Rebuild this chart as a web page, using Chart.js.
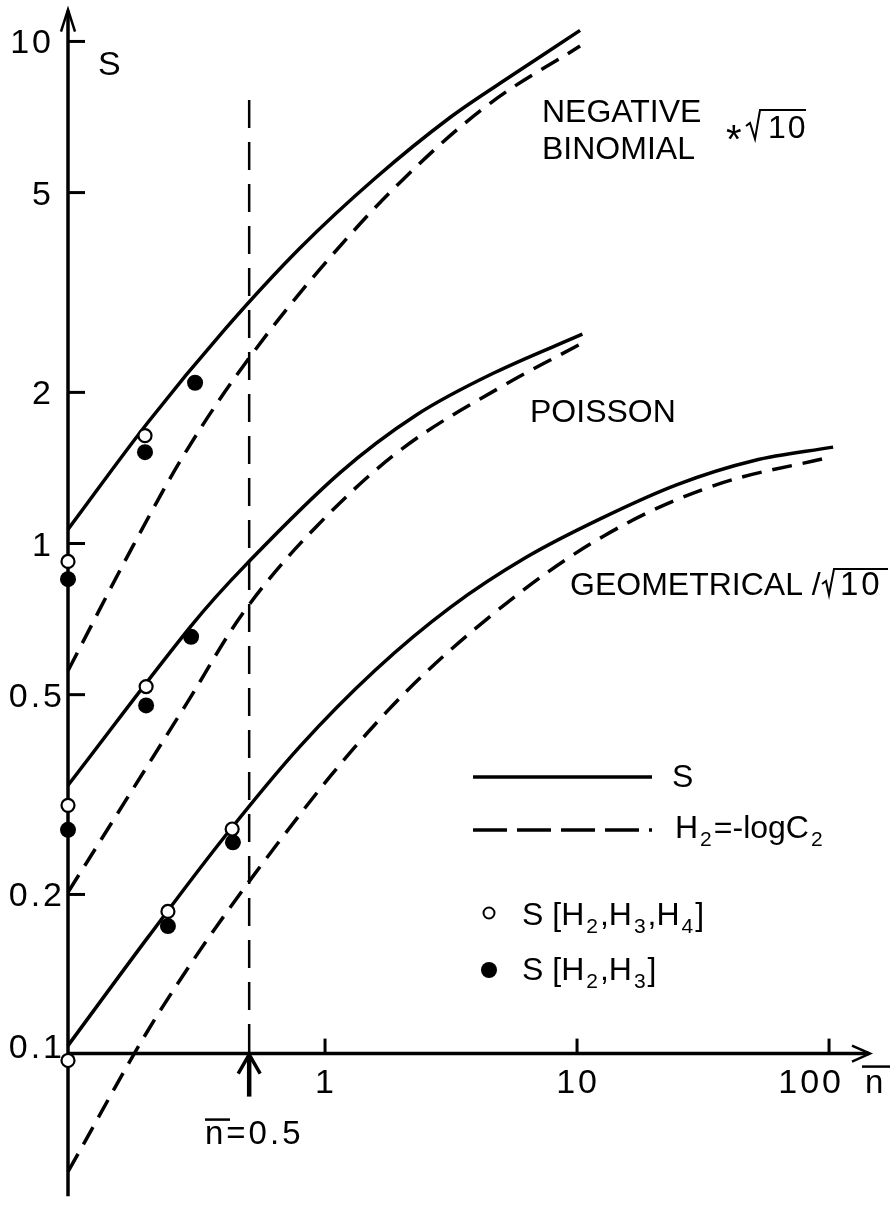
<!DOCTYPE html>
<html>
<head>
<meta charset="utf-8">
<script src="https://cdn.jsdelivr.net/npm/chart.js@4.4.0/dist/chart.umd.min.js"></script>
<style>
  html, body { margin: 0; padding: 0; background: #fff; }
  canvas { display: block; }
</style>
</head>
<body>
<canvas id="chart" width="893" height="1205"></canvas>
<script>
// --- DATA (n̄ vs S, log-log) ---
const nbSolidN = [0.0955, 0.1995, 0.398, 0.794, 1.585, 3.162, 5.623, 10.28];
const nbSolidS = [1.067, 1.750, 2.661, 3.873, 5.346, 7.079, 8.610, 10.52];

const nbDashN = [0.0955, 0.173, 0.283, 0.49, 0.955, 2.04, 4.52, 10.28];
const nbDashS = [0.558, 0.989, 1.535, 2.31, 3.52, 5.31, 7.53, 9.79];

const poSolidN = [0.0955, 0.291, 0.49, 1.148, 2.32, 4.65, 10.5];
const poSolidS = [0.330, 0.681, 0.912, 1.384, 1.807, 2.183, 2.612];

const poDashN = [0.0955, 0.283, 0.486, 0.929, 2.04, 5.08, 10.57];
const poDashS = [0.202, 0.481, 0.741, 1.084, 1.549, 2.061, 2.512];

const geSolidN = [0.0955, 0.1995, 0.398, 0.794, 1.585, 3.162, 6.31, 12.59, 25.12, 50.12, 103.8];
const geSolidS = [0.100, 0.165, 0.260, 0.394, 0.560, 0.748, 0.940, 1.125, 1.312, 1.462, 1.556];

const geDashN = [0.0955, 0.228, 0.646, 1.762, 4.645, 12.68, 34.67, 100.9];
const geDashS = [0.0561, 0.120, 0.252, 0.463, 0.724, 1.033, 1.303, 1.486];

// S[H2,H3,H4] (open) and S[H2,H3] (filled)
const openN = [0.0955, 0.193, 0.0955, 0.195, 0.0955, 0.238, 0.428];
const openS = [0.921, 1.64, 0.301, 0.519, 0.0934, 0.185, 0.270];
const fillN = [0.0955, 0.193, 0.305, 0.0955, 0.195, 0.294, 0.238, 0.431];
const fillS = [0.849, 1.52, 2.09, 0.269, 0.476, 0.652, 0.173, 0.254];

const yTicks = [10, 5, 2, 1, 0.5, 0.2, 0.1];
const yTickLabels = ['10', '5', '2', '1', '0.5', '0.2', '0.1'];
const xTicks = [1, 10, 100];
const xTickLabels = ['1', '10', '100'];
const markN = 0.5;           // the n̄ = 0.5 line

// --- LAYOUT ---
const AXIS_N = 0.0955;       // where the S axis stands
const AXIS_S = 0.0964;       // where the n̄ axis runs
const FONT = '"Liberation Sans", Arial, Helvetica, sans-serif';

function pts(xs, ys) { return xs.map((v, i) => ({ x: v, y: ys[i] })); }

function curve(xs, ys, dashed) {
    return {
        data: pts(xs, ys),
        showLine: true,
        borderColor: '#000',
        borderWidth: 3.5,
        borderDash: dashed ? [20, 11] : [],
        pointRadius: 0,
        tension: 0.35,
        fill: false,
        clip: false
    };
}

function line(ctx, coords, width, dash) {
    ctx.save();
    ctx.lineWidth = width;
    ctx.strokeStyle = '#000';
    ctx.setLineDash(dash || []);
    ctx.beginPath();
    coords.forEach((p, i) => i ? ctx.lineTo(p[0], p[1]) : ctx.moveTo(p[0], p[1]));
    ctx.stroke();
    ctx.restore();
}

function text(ctx, s, x, y, size, spacing) {
    ctx.save();
    ctx.font = size + 'px ' + FONT;
    ctx.fillStyle = '#000';
    ctx.textAlign = 'left';
    ctx.textBaseline = 'alphabetic';
    ctx.letterSpacing = (spacing || 0) + 'px';
    ctx.fillText(s, x, y);
    const w = ctx.measureText(s).width;
    ctx.restore();
    return w;
}

// runs: [text, isSubscript]
function runs(ctx, parts, x, y) {
    let cx = x;
    parts.forEach(([s, sub]) => {
        cx += sub ? text(ctx, s, cx + 2, y + 8, 21) + 4 : text(ctx, s, cx, y, 32);
    });
}

function textWidth(ctx, s, size, spacing) {
    ctx.save();
    ctx.font = size + 'px ' + FONT;
    ctx.letterSpacing = (spacing || 0) + 'px';
    const w = ctx.measureText(s).width;
    ctx.restore();
    return w;
}

const paperPlugin = {
    id: 'paper',
    beforeDatasetsDraw(chart) {
        const { ctx, scales: { x, y }, chartArea } = chart;
        const ax = x.getPixelForValue(AXIS_N);
        const ay = y.getPixelForValue(AXIS_S);

        // n̄ = 0.5 guide
        const mx = x.getPixelForValue(markN);
        line(ctx, [[mx, 100], [mx, ay]], 2.5, [28, 14]);

        // S axis with arrow
        line(ctx, [[ax, chartArea.bottom], [ax, chartArea.top + 2]], 3.5);
        line(ctx, [[ax - 7, chartArea.top + 23], [ax, chartArea.top + 1], [ax + 7, chartArea.top + 23]], 2.5);

        // n̄ axis with arrow
        const xEnd = chartArea.right;
        line(ctx, [[ax, ay], [xEnd - 1, ay]], 3.5);
        line(ctx, [[xEnd - 18, ay - 8], [xEnd, ay], [xEnd - 18, ay + 8]], 2.5);

        // y ticks and labels
        yTicks.forEach((v, i) => {
            const py = y.getPixelForValue(v);
            if (v > AXIS_S * 1.2) line(ctx, [[ax, py], [ax + 17, py]], 3);
            const lab = yTickLabels[i];
            const right = lab.includes('.') ? 65 : 54;
            text(ctx, lab, right - textWidth(ctx, lab, 34, 3), py + 12, 34, 3);
        });

        // x ticks and labels
        xTicks.forEach((v, i) => {
            const px = x.getPixelForValue(v);
            line(ctx, [[px, ay], [px, ay - 15]], 3);
            const lab = xTickLabels[i];
            const w = textWidth(ctx, lab, 34, 3);
            const left = i === xTicks.length - 1 ? px + 15 - w : px - w / 2 + 1;
            text(ctx, lab, left, ay + 39, 34, 3);
        });
    },
    afterDatasetsDraw(chart) {
        const { ctx, scales: { x, y } } = chart;
        const ay = y.getPixelForValue(AXIS_S);
        const mx = x.getPixelForValue(markN);

        // axis names
        text(ctx, 'S', 98, 75, 34);
        text(ctx, 'n', 865, ay + 39, 33);
        line(ctx, [[862, ay + 13], [890, ay + 13]], 2.5);

        // arrow for n̄ = 0.5
        line(ctx, [[mx, ay + 4], [mx, ay + 43]], 4.5);
        line(ctx, [[mx - 11, ay + 20], [mx, ay + 1], [mx + 11, ay + 20]], 3.5);
        const w = text(ctx, 'n', 205, ay + 90, 33, 3);
        text(ctx, '=0.5', 205 + w, ay + 90, 33, 3);
        line(ctx, [[205, ay + 66], [230, ay + 66]], 2.5);

        // curve names
        text(ctx, 'NEGATIVE', 542, 122, 32);
        text(ctx, 'BINOMIAL', 542, 159, 32);
        text(ctx, '*', 726, 153, 40);
        line(ctx, [[746, 126], [750, 123], [755, 139], [760, 110], [806, 110]], 2);
        text(ctx, '10', 768, 138, 32, 2);

        text(ctx, 'POISSON', 530, 422, 32);

        text(ctx, 'GEOMETRICAL /', 570, 595, 32);
        line(ctx, [[822, 584], [826, 581], [829, 595], [834, 569], [888, 569]], 2);
        text(ctx, '10', 840, 595, 33, 3);

        // legend
        line(ctx, [[473, 777], [652, 777]], 3.5);
        text(ctx, 'S', 672, 787, 32);
        line(ctx, [[473, 830], [652, 830]], 3.5, [34, 10]);
        runs(ctx, [['H'], ['2', true], ['=-logC'], ['2', true]], 675, 838);

        ctx.save();
        ctx.lineWidth = 2;
        ctx.strokeStyle = '#000';
        ctx.fillStyle = '#fff';
        ctx.beginPath(); ctx.arc(489, 913, 5.5, 0, Math.PI * 2); ctx.fill(); ctx.stroke();
        ctx.fillStyle = '#000';
        ctx.beginPath(); ctx.arc(489, 970, 8, 0, Math.PI * 2); ctx.fill();
        ctx.restore();
        runs(ctx, [['S [H'], ['2', true], [',H'], ['3', true], [',H'], ['4', true], [']']], 522, 925);
        runs(ctx, [['S [H'], ['2', true], [',H'], ['3', true], [']']], 522, 980);
    }
};

new Chart(document.getElementById('chart'), {
    type: 'scatter',
    data: {
        datasets: [
            {
                data: pts(openN, openS),
                pointRadius: 6.5, pointBorderWidth: 2.2,
                pointBackgroundColor: '#fff', pointBorderColor: '#000', clip: false
            },
            {
                data: pts(fillN, fillS),
                pointRadius: 8, pointBorderWidth: 0,
                pointBackgroundColor: '#000', pointBorderColor: '#000', clip: false
            },
            curve(nbSolidN, nbSolidS, false),
            curve(nbDashN, nbDashS, true),
            curve(poSolidN, poSolidS, false),
            curve(poDashN, poDashS, true),
            curve(geSolidN, geSolidS, false),
            curve(geDashN, geDashS, true)
        ]
    },
    options: {
        responsive: false,
        devicePixelRatio: 1,
        animation: false,
        layout: { padding: { left: 68, right: 23, top: 5, bottom: 3 } },
        plugins: { legend: { display: false }, tooltip: { enabled: false } },
        events: [],
        scales: {
            x: { type: 'logarithmic', min: 0.0955, max: 145.4, bounds: 'data', display: false },
            y: { type: 'logarithmic', min: 0.0501, max: 11.62, bounds: 'data', display: false }
        }
    },
    plugins: [paperPlugin]
});
</script>
</body>
</html>
